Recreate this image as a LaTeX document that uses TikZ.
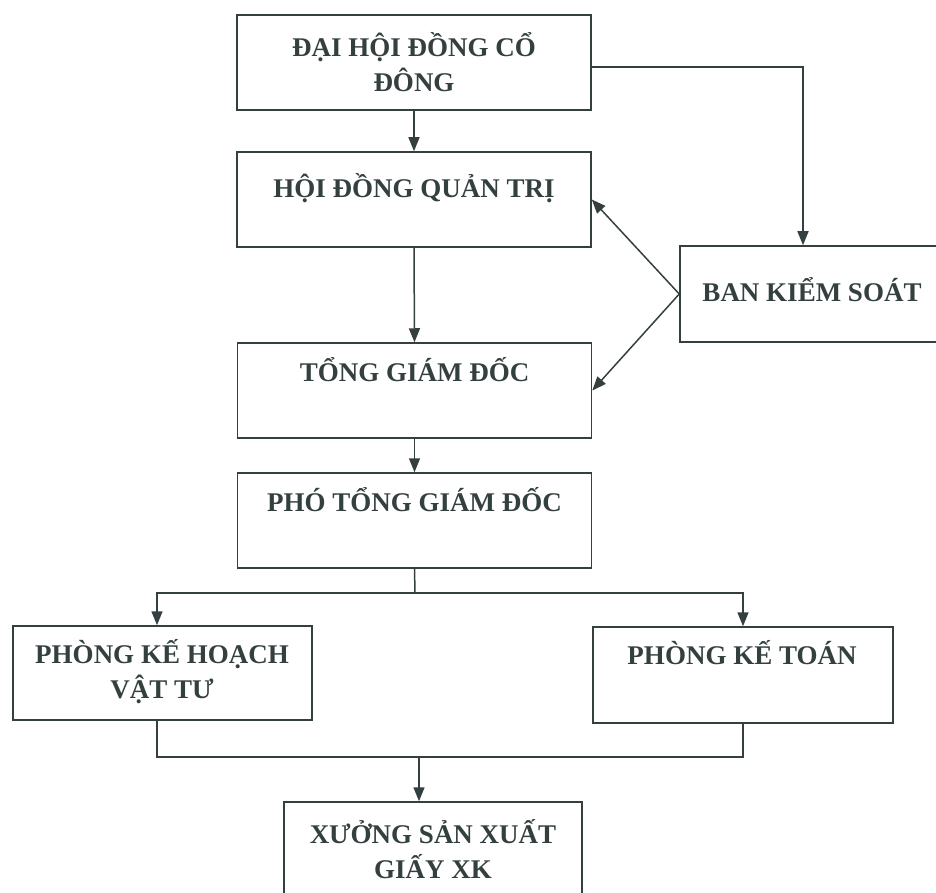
\documentclass[tikz,border=0pt]{standalone}
\usepackage{fontspec}
\setmainfont{Liberation Serif}
\usetikzlibrary{arrows.meta}
\definecolor{ink}{HTML}{34403F}
\tikzset{
  box/.style={draw=ink, line width=1.5pt, rectangle, inner sep=0pt},
  lbl/.style={text=ink, font=\bfseries\fontsize{27}{35}\selectfont, align=center, inner sep=0pt},
  conn/.style={draw=ink, line width=1.5pt},
  arr/.style={conn, -{Triangle[length=14pt,width=11pt]}}
}
\begin{document}
\begin{tikzpicture}[x=1pt,y=-1pt]
\useasboundingbox (0,0) rectangle (936,893);
% boxes
\node[box, minimum width=354pt, minimum height=95pt] (b1) at (414,62.5) {};
\node[box, minimum width=354pt, minimum height=95pt] (b2) at (414,199.5) {};
\node[box, minimum width=354pt, minimum height=95pt] (b3) at (414.5,390.5) {};
\node[box, minimum width=354pt, minimum height=95pt] (b4) at (414.5,520.5) {};
\node[box, minimum width=260pt, minimum height=96pt] (bks) at (810,294) {};
\node[box, minimum width=299pt, minimum height=94pt] (pk) at (162.5,673) {};
\node[box, minimum width=300pt, minimum height=96pt] (pt) at (743,675) {};
\node[box, minimum width=298pt, minimum height=95pt] (xs) at (433,849.5) {};
% labels
\node[lbl] (t1) at (414,62.5) {ĐẠI HỘI ĐỒNG CỔ\\ĐÔNG};
\node[lbl] (t2) at (414,188) {HỘI ĐỒNG QUẢN TRỊ};
\node[lbl] (t3) at (414.5,370) {TỔNG GIÁM ĐỐC};
\node[lbl] (t4) at (414.5,500) {PHÓ TỔNG GIÁM ĐỐC};
\node[lbl] (t5) at (812,290) {BAN KIỂM SOÁT};
\node[lbl] (t6) at (162,671.5) {PHÒNG KẾ HOẠCH\\VẬT TƯ};
\node[lbl] (t7) at (742,653) {PHÒNG KẾ TOÁN};
\node[lbl] (t8) at (433,849) {XƯỞNG SẢN XUẤT\\GIẤY XK};
% coordinates
\coordinate (c1) at (803,67);
\coordinate (j1) at (415,593);
\coordinate (jl) at (157,593);
\coordinate (jr) at (743,593);
\coordinate (bl) at (157,757);
\coordinate (br) at (743,757);
\coordinate (j2) at (419,757);
% connectors
\draw[arr] (b1.south) -- (b2.north);
\draw[arr] (b1.east |- c1) -- (c1) -- (c1 |- bks.north);
\draw[arr] (b2.south) -- (b3.north);
\draw[arr] (bks.west) -- (b2.east);
\draw[arr] (bks.west) -- (b3.east);
\draw[arr] (b3.south) -- (b4.north);
\draw[conn] (b4.south) -- (j1);
\draw[arr] (j1) -- (jl) -- (jl |- pk.north);
\draw[arr] (j1) -- (jr) -- (jr |- pt.north);
\draw[conn] (bl |- pk.south) -- (bl) -- (br) -- (br |- pt.south);
\draw[arr] (j2) -- (j2 |- xs.north);
\end{tikzpicture}
\end{document}
